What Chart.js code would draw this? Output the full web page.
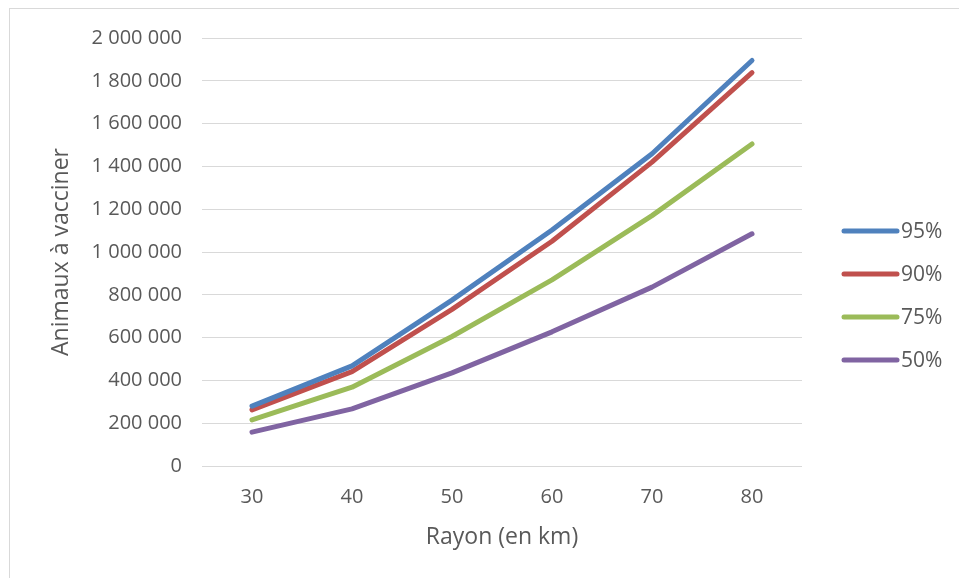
<!DOCTYPE html>
<html lang="fr">
<head>
<meta charset="utf-8">
<title>Animaux à vacciner</title>
<script src="https://cdn.jsdelivr.net/npm/chart.js@4.4.1/dist/chart.umd.min.js"></script>
<style>
  html, body { margin: 0; padding: 0; background: #fff; overflow: hidden; }
  #frame {
    position: absolute; left: 9px; top: 8px;
    width: 1000px; height: 1000px;
    border: 1px solid #d9d9d9;
  }
  #wrap { position: absolute; left: 0; top: 0; width: 959px; height: 578px; }
</style>
</head>
<body>
<div id="frame"></div>
<div id="wrap"><canvas id="chart" width="959" height="578"></canvas></div>
<script>
  // Data
  const rayons = ["30", "40", "50", "60", "70", "80"];
  const seriesLabels = ["95%", "90%", "75%", "50%"];
  const vals95 = [280000, 468000, 775000, 1103000, 1459000, 1895000];
  const vals90 = [262000, 441000, 732000, 1050000, 1420000, 1838000];
  const vals75 = [215000, 368000, 605000, 870000, 1170000, 1505000];
  const vals50 = [158000, 267000, 435000, 627000, 836000, 1085000];
  const yMin = 0, yMax = 2000000, yStep = 200000;

  const colors = ["#4f81bd", "#c0504d", "#9bbb59", "#8064a2"];
  const textColor = "#595959";
  const fontFamily = "'Open Sans', sans-serif";

  // space as thousands separator, like the French locale
  function frNumber(v) {
    return String(Math.round(v)).replace(/\B(?=(\d{3})+(?!\d))/g, " ");
  }

  function makeDataset(label, data, color) {
    return {
      label: label,
      data: data,
      borderColor: color,
      backgroundColor: color,
      borderWidth: 5,
      borderCapStyle: "round",
      borderJoinStyle: "round",
      pointRadius: 0,
      pointHoverRadius: 0,
      tension: 0,
      fill: false,
    };
  }

  // Legend drawn by hand so it can sit apart from the plot area
  const sideLegend = {
    id: "sideLegend",
    afterDraw(chart, args, opts) {
      const ctx = chart.ctx;
      ctx.save();
      ctx.font = opts.fontSize + "px " + fontFamily;
      ctx.textBaseline = "middle";
      ctx.textAlign = "left";
      chart.data.datasets.forEach((ds, i) => {
        const y = opts.top + i * opts.step;
        ctx.strokeStyle = ds.borderColor;
        ctx.lineWidth = ds.borderWidth;
        ctx.lineCap = "round";
        ctx.beginPath();
        ctx.moveTo(opts.x, y);
        ctx.lineTo(opts.x + opts.lineWidth, y);
        ctx.stroke();
        ctx.fillStyle = textColor;
        ctx.fillText(ds.label, opts.x + opts.lineWidth + opts.gap, y + 1);
      });
      ctx.restore();
    },
  };

  new Chart(document.getElementById("chart").getContext("2d"), {
    type: "line",
    data: {
      labels: rayons,
      datasets: [
        makeDataset(seriesLabels[0], vals95, colors[0]),
        makeDataset(seriesLabels[1], vals90, colors[1]),
        makeDataset(seriesLabels[2], vals75, colors[2]),
        makeDataset(seriesLabels[3], vals50, colors[3]),
      ],
    },
    options: {
      responsive: false,
      devicePixelRatio: 1,
      animation: false,
      layout: { padding: { left: 45, right: 157, top: 38, bottom: 20 } },
      plugins: {
        legend: { display: false },
        tooltip: { enabled: false },
        sideLegend: { x: 844, lineWidth: 53, gap: 4, top: 231, step: 43, fontSize: 21 },
      },
      scales: {
        x: {
          offset: true,
          grid: { display: false, drawTicks: false },
          border: { display: false },
          ticks: { color: textColor, font: { family: fontFamily, size: 20 }, padding: 19 },
          title: {
            display: true,
            text: "Rayon (en km)",
            color: textColor,
            font: { family: fontFamily, size: 23 },
            padding: { top: 0, bottom: 7 },
          },
          afterFit(scale) { scale.height = 92; },
        },
        y: {
          min: yMin,
          max: yMax,
          grid: { color: "#d9d9d9", lineWidth: 1, drawTicks: false },
          border: { display: false },
          ticks: {
            stepSize: yStep,
            color: textColor,
            font: { family: fontFamily, size: 20 },
            padding: 20,
            callback: (v) => frNumber(v),
          },
          title: {
            display: true,
            text: "Animaux à vacciner",
            color: textColor,
            font: { family: fontFamily, size: 23 },
            padding: { top: 3, bottom: 0 },
          },
          afterFit(scale) { scale.width = 157; },
        },
      },
    },
    plugins: [sideLegend],
  });
</script>
</body>
</html>
